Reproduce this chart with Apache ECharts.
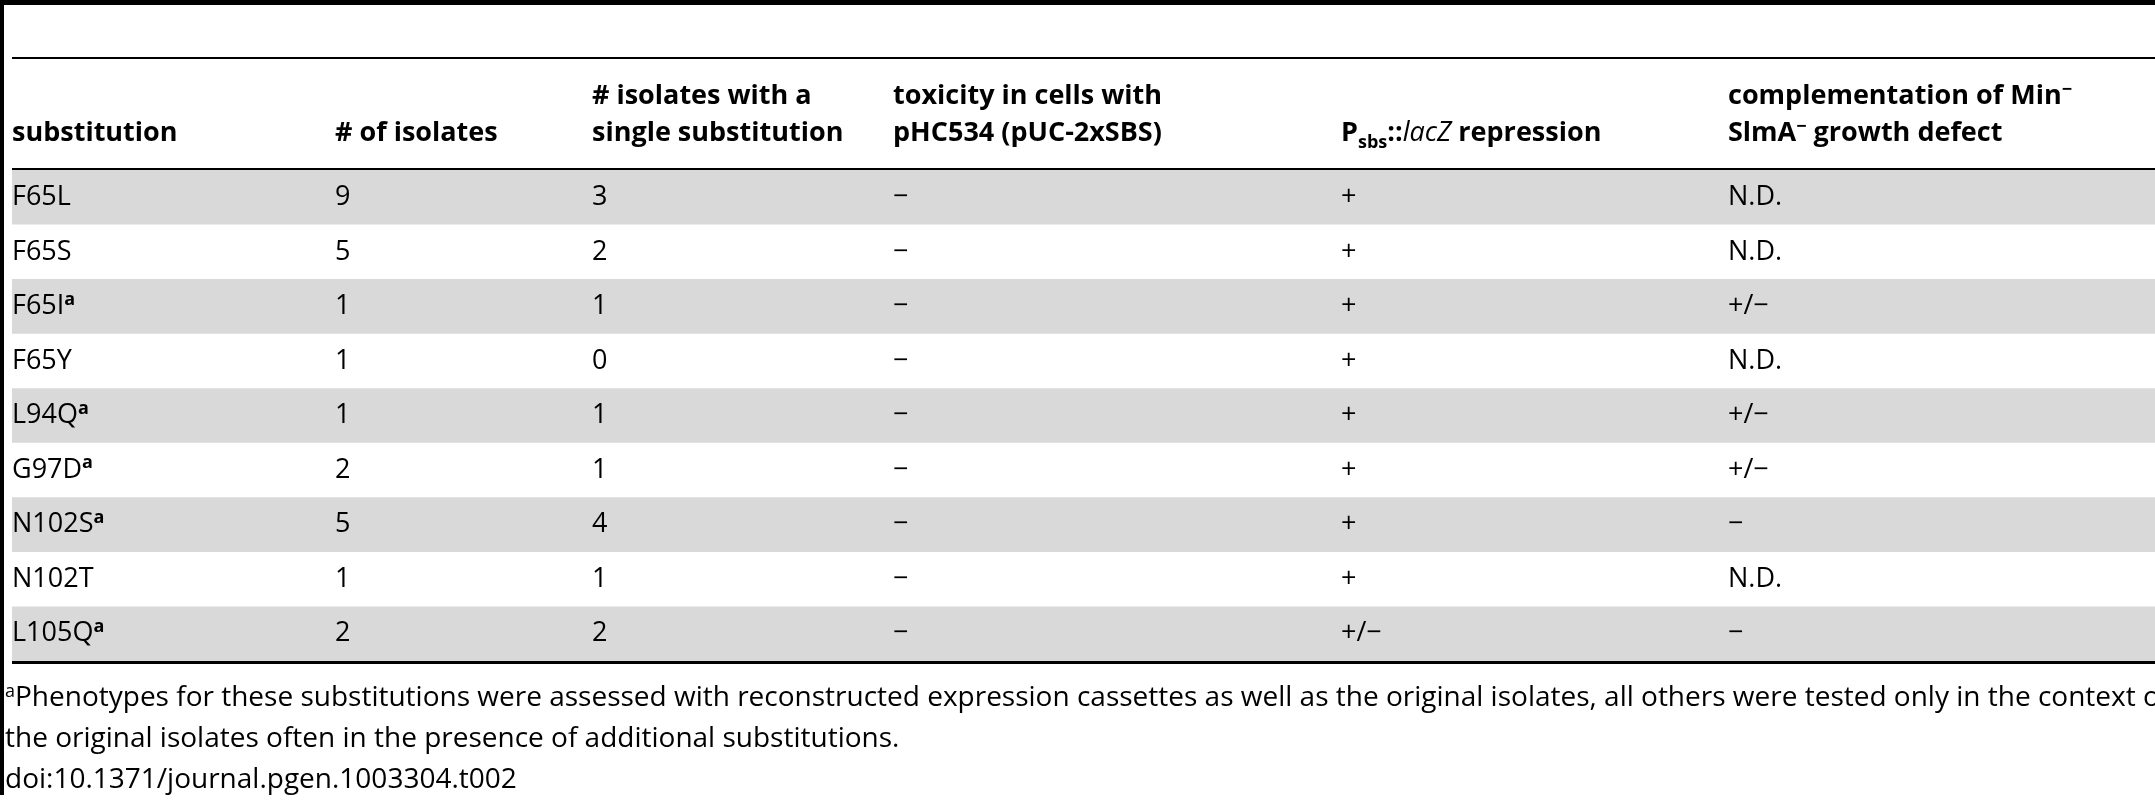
<!DOCTYPE html>
<html>
<head>
<meta charset="utf-8">
<script src="https://cdn.jsdelivr.net/npm/echarts@6/dist/echarts.min.js"></script>
<style>
  html, body { margin: 0; padding: 0; background: #fff; }
  #main { width: 2155px; height: 800px; }
</style>
</head>
<body>
<div id="main"></div>
<script>
// table contents
const substitutions = ['F65L', 'F65S', 'F65I{sup|a}', 'F65Y', 'L94Q{sup|a}', 'G97D{sup|a}', 'N102S{sup|a}', 'N102T', 'L105Q{sup|a}'];
const numIsolates = ['9', '5', '1', '1', '1', '2', '5', '1', '2'];
const singleSub = ['3', '2', '1', '0', '1', '1', '4', '1', '2'];
const toxicity = ['−', '−', '−', '−', '−', '−', '−', '−', '−'];
const repression = ['+', '+', '+', '+', '+', '+', '+', '+', '+/−'];
const complementation = ['N.D.', 'N.D.', '+/−', 'N.D.', '+/−', '+/−', '−', 'N.D.', '−'];

const colX = [12, 335, 592, 893, 1341, 1728];
const FONT = '"Open Sans", "Noto Sans", sans-serif';

const columns = [substitutions, numIsolates, singleSub, toxicity, repression, complementation];
const rowIdx = substitutions.map((_, i) => i);

const chart = echarts.init(document.getElementById('main'));

const textStyleRich = {
  sup: { fontSize: 18, fontWeight: 'bold', verticalAlign: 'top', padding: [0, 0, 14, 0], fontFamily: FONT, fill: '#000' }
};

chart.setOption({
  animation: false,
  grid: { left: 0, top: 170, width: 2155, height: 491 },
  xAxis: { type: 'value', min: 0, max: 2155, show: false },
  yAxis: { type: 'category', data: rowIdx, inverse: true, show: false },
  series: [{
    type: 'custom',
    data: rowIdx,
    renderItem: function (params, api) {
      const r = api.value(0);
      const c = api.coord([0, r]);
      const h = api.size([0, 1])[1];
      const children = [];
      if (r % 2 === 0) {
        children.push({ type: 'rect', shape: { x: 12, y: c[1] - h / 2, width: 2143, height: h }, style: { fill: '#d9d9d9' } });
      }
      columns.forEach((col, j) => {
        children.push({
          type: 'text',
          style: {
            x: colX[j], y: c[1], text: col[r], fontSize: 27, fontFamily: FONT,
            fill: '#000', verticalAlign: 'middle', rich: textStyleRich
          }
        });
      });
      return { type: 'group', children: children };
    }
  }],
  graphic: [
    { type: 'rect', shape: { x: 0, y: 0, width: 2155, height: 5 }, style: { fill: '#000' } },
    { type: 'rect', shape: { x: 0, y: 0, width: 4, height: 795 }, style: { fill: '#000' } },
    { type: 'rect', shape: { x: 12, y: 57, width: 2143, height: 2 }, style: { fill: '#000' } },
    { type: 'rect', shape: { x: 12, y: 168, width: 2143, height: 2 }, style: { fill: '#000' } },
    { type: 'rect', shape: { x: 12, y: 661, width: 2143, height: 3 }, style: { fill: '#000' } },
    // header
    ...[
      [colX[0], 'substitution'],
      [colX[1], '# of isolates'],
      [colX[2], '# isolates with a\nsingle substitution'],
      [colX[3], 'toxicity in cells with\npHC534 (pUC-2xSBS)'],
      [colX[4], 'P{sub|sbs}::{it|lacZ} repression'],
      [colX[5], 'complementation of Min{sp|−}\nSlmA{sp|−} growth defect']
    ].map(([x, t]) => ({
      type: 'text',
      style: {
        x: x, y: 152, text: t, fontSize: 27, fontWeight: 'bold', fontFamily: FONT, fill: '#000',
        verticalAlign: 'bottom', lineHeight: 37,
        rich: {
          sub: { fontSize: 18, fontWeight: 'bold', fontFamily: FONT, verticalAlign: 'bottom', padding: [10, 0, 0, 0] },
          it: { fontSize: 27, fontStyle: 'italic', fontFamily: FONT },
          sp: { fontSize: 18, fontWeight: 'bold', fontFamily: FONT, padding: [0, 0, 14, 0] }
        }
      }
    })),
    // footnote
    {
      type: 'text',
      style: {
        x: 5, y: 678, fontSize: 28, fontFamily: FONT, fill: '#000', lineHeight: 41,
        text: '{sup|a}Phenotypes for these substitutions were assessed with reconstructed expression cassettes as well as the original isolates, all others were tested only in the context of\nthe original isolates often in the presence of additional substitutions.\ndoi:10.1371/journal.pgen.1003304.t002',
        rich: { sup: { fontSize: 18, fontFamily: FONT, padding: [0, 0, 14, 0] } }
      }
    }
  ]
});
</script>
</body>
</html>
